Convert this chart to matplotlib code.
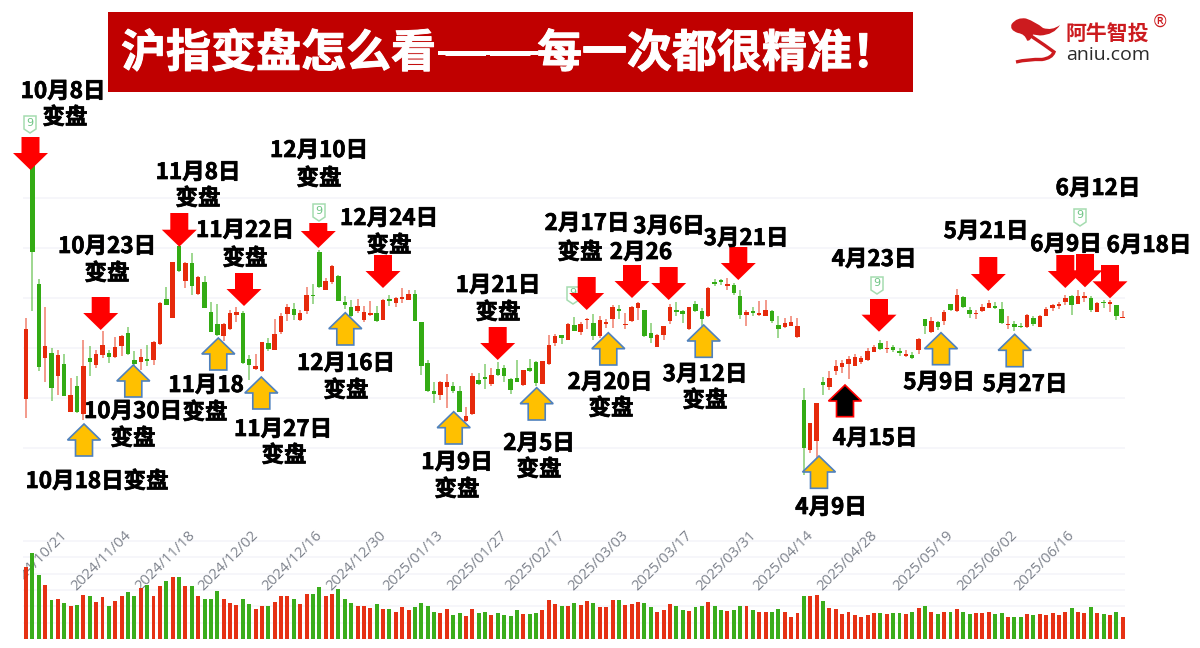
import matplotlib
matplotlib.use("Agg")
import matplotlib.pyplot as plt
import matplotlib.patheffects as pe
from matplotlib.patches import Polygon, Rectangle, PathPatch
from matplotlib.path import Path

plt.rcParams['font.family'] = ['Noto Sans CJK SC', 'DejaVu Sans']

opens = [3197,3674,3428,3280,3289,3243,3268,3171,3224,3168,
3279,3265,3286,3289,3281,3303,3329,3275,3271,3277,
3276,3307,3397,3360,3503,3433,3469,3407,3431,3371,
3347,3324,3338,3365,3369,3277,3258,3253,3309,3296,
3331,3367,3377,3355,3373,3404,3491,3416,3431,3444,
3391,3381,3373,3356,3366,3369,3355,3397,3389,3398,
3396,3408,3351,3269,3213,3205,3221,3224,3214,3153,
3168,3236,3241,3228,3258,3259,3238,3239,3225,3259,
3272,3228,3267,3309,3325,3315,3345,3331,3355,3350,
3323,3347,3357,3377,3345,3353,3379,3375,3329,3301,
3325,3353,3375,3374,3337,3387,3373,3363,3432,3436,
3424,3426,3404,3366,3373,3366,3364,3373,3345,3341,
3344,3321,3196,3096,3113,3231,3221,3253,3261,3268,
3263,3271,3275,3291,3309,3297,3301,3293,3283,3285,
3296,3357,3331,3351,3354,3387,3374,3401,3376,3367,
3373,3380,3382,3377,3345,3348,3343,3341,3359,3341,
3364,3379,3384,3391,3404,3387,3399,3399,3371,3391,
3388,3385,3359]
highs = [3359,3674,3437,3381,3299,3296,3287,3239,3243,3316,
3303,3296,3333,3296,3321,3326,3341,3293,3297,3306,
3313,3391,3421,3472,3503,3471,3489,3443,3443,3391,
3387,3349,3376,3381,3373,3286,3288,3311,3319,3357,
3369,3388,3389,3376,3421,3428,3496,3439,3466,3445,
3404,3396,3398,3384,3393,3384,3397,3406,3401,3419,
3415,3416,3351,3276,3231,3234,3248,3231,3223,3181,
3249,3249,3267,3259,3271,3266,3239,3276,3256,3277,
3273,3274,3326,3327,3326,3349,3361,3351,3359,3368,
3363,3357,3386,3386,3369,3383,3391,3376,3349,3327,
3344,3387,3391,3376,3381,3394,3379,3421,3437,3437,
3439,3429,3416,3376,3381,3393,3396,3376,3363,3359,
3364,3359,3219,3149,3189,3241,3253,3275,3276,3283,
3288,3284,3299,3306,3315,3313,3305,3299,3296,3291,
3319,3358,3361,3353,3375,3388,3418,3404,3381,3376,
3388,3395,3391,3391,3364,3353,3349,3367,3363,3365,
3381,3388,3391,3405,3406,3415,3411,3403,3391,3395,
3396,3386,3373]
lows = [3159,3374,3253,3231,3193,3206,3203,3171,3169,3156,
3243,3259,3279,3269,3279,3283,3286,3261,3256,3264,
3266,3306,3386,3359,3451,3419,3405,3406,3379,3331,
3323,3313,3336,3351,3268,3236,3256,3251,3293,3295,
3328,3353,3356,3353,3368,3388,3419,3415,3428,3393,
3377,3361,3369,3351,3364,3351,3355,3384,3381,3389,
3396,3353,3245,3211,3189,3196,3179,3209,3171,3151,
3166,3226,3218,3224,3243,3231,3207,3231,3224,3251,
3223,3227,3266,3304,3307,3315,3333,3326,3337,3316,
3319,3339,3339,3357,3337,3351,3356,3321,3309,3301,
3316,3348,3364,3349,3336,3371,3344,3361,3424,3426,
3415,3406,3357,3343,3364,3364,3363,3349,3319,3339,
3343,3319,3045,3089,3076,3205,3215,3246,3249,3238,
3263,3268,3274,3291,3295,3289,3291,3284,3281,3278,
3288,3328,3329,3336,3346,3373,3371,3379,3359,3358,
3371,3379,3378,3348,3338,3334,3339,3340,3344,3341,
3363,3374,3378,3385,3366,3387,3391,3372,3371,3379,
3372,3355,3359]
closes = [3338,3491,3261,3303,3219,3286,3204,3205,3171,3264,
3271,3288,3305,3281,3301,3324,3288,3268,3281,3273,
3312,3389,3386,3471,3453,3469,3423,3441,3379,3332,
3325,3347,3369,3371,3269,3265,3263,3311,3297,3327,
3364,3381,3366,3369,3405,3403,3421,3433,3463,3393,
3386,3363,3384,3371,3369,3353,3395,3394,3399,3402,
3408,3353,3264,3213,3208,3232,3232,3213,3171,3164,
3244,3228,3237,3245,3246,3243,3215,3231,3255,3253,
3230,3273,3305,3324,3319,3348,3333,3348,3357,3324,
3356,3351,3381,3374,3347,3381,3389,3323,3319,3325,
3343,3381,3372,3367,3381,3373,3358,3420,3427,3431,
3428,3409,3365,3371,3369,3369,3375,3353,3337,3349,
3352,3343,3100,3149,3189,3225,3239,3264,3269,3278,
3281,3279,3293,3301,3297,3299,3296,3289,3288,3279,
3317,3343,3353,3341,3371,3375,3405,3381,3368,3369,
3382,3389,3380,3349,3347,3341,3341,3365,3347,3363,
3377,3385,3387,3400,3385,3404,3404,3376,3390,3389,
3391,3363,3361]
volumes = [216,258,193,162,116,121,109,99,102,133,128,112,126,99,115,130,141,128,153,163,
128,160,175,187,187,160,160,130,121,121,145,121,109,102,121,104,90,99,99,112,
128,128,121,104,136,136,155,130,136,151,121,109,99,99,94,106,90,90,80,
97,88,97,109,99,82,78,90,73,78,70,90,78,82,73,78,73,70,88,75,75,78,88,117,104,
99,99,109,102,114,109,97,97,117,117,102,106,112,109,97,82,87,104,99,88,85,97,99,112,
99,88,85,87,99,99,88,82,80,80,90,80,65,77,
128,128,133,114,92,90,75,82,73,67,73,78,77,75,77,77,75,82,92,99,82,75,80,82,90,80,
75,77,77,80,75,77,65,65,65,75,73,75,73,77,73,82,92,80,77,97,77,75,73,80,65]
tick_idx = [10,20,30,40,50,60,69,79,88,98,108,118,127,137,149,159,168]
tick_labels = ['2024/10/21','2024/11/04','2024/11/18','2024/12/02','2024/12/16','2024/12/30',
               '2025/01/13','2025/01/27','2025/02/17','2025/03/03','2025/03/17','2025/03/31',
               '2025/04/14','2025/04/28','2025/05/19','2025/06/02','2025/06/16']
price_grid = [3100,3200,3300,3400,3500,3600]
volume_grid = [49,98,147,196,245,294]

RED, GREEN = '#E62A0C', '#33AB14'
GRID = '#f6f6fa'
W, H = 1200, 648
X0, STEP = 26.0, 6.376

fig = plt.figure(figsize=(12, 6.48), dpi=100, facecolor='white')

# price panel: full figure, index on x, points on y
ax = fig.add_axes([0, 0, 1, 1])
ax.set_xlim(-X0 / STEP, (W - X0) / STEP)
ax.set_ylim(2700, 3996)
ax.axis('off')
xs = list(range(len(closes)))
colors = [RED if c >= o else GREEN for o, c in zip(opens, closes)]
left, right = (23 - X0) / STEP, (1125 - X0) / STEP
ax.hlines(price_grid, left, right, color=GRID, lw=1.3, zorder=1)
ax.vlines(xs, lows, highs, colors=colors, lw=1.1, alpha=0.6, zorder=2)
ax.bar(xs, [max(abs(c - o), 3) for o, c in zip(opens, closes)],
       bottom=[min(o, c) for o, c in zip(opens, closes)],
       width=0.7, color=colors, linewidth=0, zorder=3)

# volume panel
vax = fig.add_axes([23 / W, (H - 639) / H, (1125 - 23) / W, 119 / H])
vax.set_xlim(left, right)
vax.set_ylim(0, 357)
vax.axis('off')
vax.patch.set_visible(False)
vax.hlines(volume_grid, left, right, color=GRID, lw=1.3, zorder=1)
for i, lab in zip(tick_idx, tick_labels):
    vax.text(i - 3.85, 318, lab, rotation=45, rotation_mode='anchor', ha='right', va='center',
             fontsize=10.6, color='#7d828c', family=['Open Sans', 'DejaVu Sans'],
             clip_on=True, zorder=2)
vax.bar(xs, volumes, width=0.62, color=colors, linewidth=0, alpha=0.97, zorder=3)
vax.hlines(0, left, right, color='#e8eaee', lw=1, zorder=2)

# overlay in picture coordinates
ov = fig.add_axes([0, 0, 1, 1])
ov.set_xlim(0, W)
ov.set_ylim(H, 0)
ov.axis('off')
ov.patch.set_visible(False)

def down(x, tip, top):
    head = tip - 17
    ov.add_patch(Polygon([(x - 9, top), (x + 9, top), (x + 9, head), (x + 17.5, head), (x, tip),
                          (x - 17.5, head), (x - 9, head)], closed=True, fc='#FF0000', ec='none', zorder=5))

def up(x, tip, bottom, fc='#FFC000', ec='#4F81BD'):
    head = tip + 16
    ov.add_patch(Polygon([(x, tip), (x + 16.5, head), (x + 8.5, head), (x + 8.5, bottom), (x - 8.5, bottom),
                          (x - 8.5, head), (x - 16.5, head)], closed=True, fc=fc, ec=ec, lw=1.2, zorder=5))

def tag(x, y):
    ov.add_patch(Polygon([(x - 6, y - 8), (x + 6, y - 8), (x + 6, y + 5), (x, y + 9), (x - 6, y + 5)],
                         closed=True, fc='white', ec='#a5dcb0', lw=1.1, zorder=4))
    ov.text(x, y - 1.5, '9', fontsize=8, color='#6fc585', ha='center', va='center',
            family=['DejaVu Sans'], zorder=4.5)

for x, y in [(30, 124), (319, 212), (573, 295), (877, 285), (1080, 217)]:
    tag(x, y)
for x, tip, top in [(30.5, 170, 137), (100.7, 330, 297), (179.3, 246.7, 213), (244, 306, 273), (318.3, 248, 223),
                    (383, 288, 255), (497.7, 360, 327), (586.7, 310, 277), (632, 298, 265), (668.7, 300, 267),
                    (738.3, 280, 247), (879, 331.7, 299), (988.3, 291, 257), (1065.3, 288, 255),
                    (1085, 287.3, 254), (1110, 298.3, 265)]:
    down(x, tip, top)
for x, tip, bottom in [(84, 424, 456), (133.3, 365, 397), (218.3, 338, 370), (261.3, 377, 409), (345.3, 312.7, 345),
                       (453.7, 411.7, 444), (536.7, 387.7, 420), (608.3, 332.7, 365), (703.7, 325, 357.3),
                       (819, 456, 488.3), (941, 332.7, 364.7), (1014.7, 334.3, 366.7)]:
    up(x, tip, bottom)
up(845, 385, 416.7, fc='black', ec='#FF0000')

labels = [("10月8日", 63, 90), ("变盘", 65, 116), ("11月8日", 198, 171), ("变盘", 198, 197),
          ("12月10日", 319, 149), ("变盘", 319, 177), ("10月23日", 107, 245), ("变盘", 107, 272),
          ("11月22日", 245, 229), ("变盘", 245, 257), ("12月24日", 389, 217), ("变盘", 389, 244),
          ("1月21日", 498, 284), ("变盘", 498, 311), ("2月17日", 587, 222), ("变盘", 580, 251),
          ("3月6日", 669, 225), ("2月26", 641, 251), ("3月21日", 746, 237), ("4月23日", 874, 258),
          ("5月21日", 986, 230), ("6月12日", 1098, 187), ("6月9日", 1066, 243), ("6月18日", 1149, 244),
          ("10月30日", 133, 410), ("变盘", 133, 437), ("11月18", 206, 384), ("变盘", 205, 411),
          ("10月18日变盘", 97, 480), ("11月27日", 283, 428), ("变盘", 284, 454),
          ("12月16日", 346, 362), ("变盘", 346, 389), ("1月9日", 457, 461), ("变盘", 457, 488),
          ("2月5日", 539, 442), ("变盘", 539, 468), ("2月20日", 610, 381), ("变盘", 611, 407),
          ("3月12日", 705, 373), ("变盘", 705, 399), ("4月15日", 875, 437), ("4月9日", 831, 506),
          ("5月9日", 939, 381), ("5月27日", 1025, 383)]
thick = [pe.withStroke(linewidth=0.5, foreground='black')]
for s, x, y in labels:
    ov.text(x, y + 1.5, s, fontsize=16.2, fontweight='bold', color='black', ha='center', va='center',
            zorder=7, path_effects=thick)

# title banner
ov.add_patch(Rectangle((108, 12), 805, 80, fc='#C00000', ec='none', zorder=6))
thick_w = [pe.withStroke(linewidth=0.7, foreground='white')]
ov.text(121, 54, "沪指变盘怎么看", fontsize=32.4, fontweight='bold', color='white',
        ha='left', va='center', zorder=7, path_effects=thick_w)
ov.text(488, 54, "——", fontsize=36, fontweight='bold', color='white',
        ha='center', va='center', zorder=7)
ov.add_patch(Rectangle((438, 50.5), 100, 4.5, fc='white', ec='none', zorder=7))
ov.text(537, 54, "每一次都很精准！", fontsize=32.4, fontweight='bold', color='white',
        ha='left', va='center', zorder=7, path_effects=thick_w)

# logo
LR = '#CC1B1F'
blob = Path([(1011.7, 24), (1017, 17), (1026, 18.5), (1036, 22), (1043, 28), (1052, 31), (1060, 25),
             (1054, 35), (1040, 35.5), (1033, 34.5), (1030, 42), (1027, 40.5), (1025, 34), (1018, 33),
             (1009, 30), (1011.7, 24)],
            [Path.MOVETO, Path.CURVE3, Path.CURVE3, Path.CURVE3, Path.CURVE3, Path.CURVE3, Path.CURVE3,
             Path.CURVE3, Path.CURVE3, Path.LINETO, Path.CURVE3, Path.CURVE3, Path.CURVE3, Path.CURVE3,
             Path.CURVE3, Path.CURVE3])
ov.add_patch(PathPatch(blob, fc=LR, ec='none'))
tail = Path([(1031, 36), (1046, 46), (1054, 52), (1052, 58), (1042, 59.5), (1028, 59), (1016, 62)],
            [Path.MOVETO, Path.CURVE3, Path.CURVE3, Path.CURVE3, Path.CURVE3, Path.CURVE3, Path.CURVE3])
ov.add_patch(PathPatch(tail, fc='none', ec=LR, lw=2.4))
ov.text(1107, 34, "阿牛智投", fontsize=15, fontweight='bold', color=LR, ha='center', va='center')
ov.text(1108, 55, "aniu.com", fontsize=14, color='#2a2a2a', ha='center', va='center', family=['Open Sans'])
ov.text(1160, 22, "®", fontsize=12, color=LR, ha='center', va='center', family=['DejaVu Sans'])

fig.savefig('out.png', dpi=100, facecolor='white')
